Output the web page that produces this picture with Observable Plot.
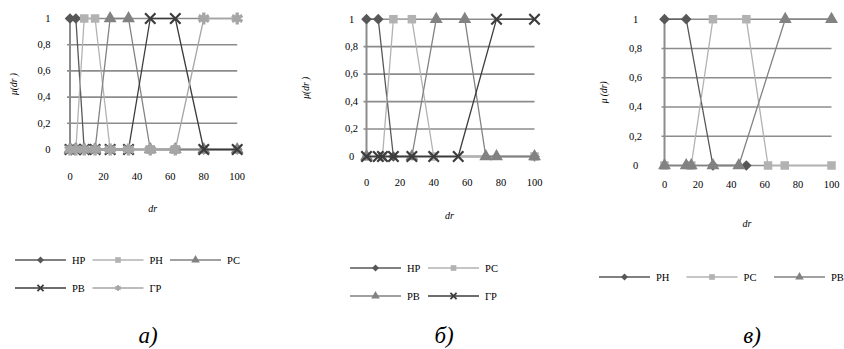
<!DOCTYPE html>
<html><head><meta charset="utf-8">
<script src="https://cdn.jsdelivr.net/npm/d3@7"></script>
<script src="https://cdn.jsdelivr.net/npm/@observablehq/plot@0.6"></script>
<style>
body{margin:0;background:#fff;}
#root{position:relative;width:844px;height:349px;overflow:hidden;}
.panel{position:absolute;top:0;}
#overlay{position:absolute;left:0;top:0;}
svg text{font-family:"Liberation Serif","Times New Roman",Times,Tinos,"Noto Serif","DejaVu Serif",serif !important;}
</style></head><body><div id="root"></div>
<script>
// ---------- data ----------
const yTicks = [0, 0.2, 0.4, 0.6, 0.8, 1];
const xTicks = [0, 20, 40, 60, 80, 100];

// panel а)
const aSeries = ["НР", "РН", "РС", "РВ", "ГР"];
const aX  = [0, 3.5, 8.5, 15, 24, 35, 48, 63, 80, 100];
const aNR = [1, 1, 0, 0, 0, 0, 0, 0, 0, 0];
const aRN = [0, 0, 1, 1, 0, 0, 0, 0, 0, 0];
const aRS = [0, 0, 0, 0, 1, 1, 0, 0, 0, 0];
const aRV = [0, 0, 0, 0, 0, 0, 1, 1, 0, 0];
const aGR = [0, 0, 0, 0, 0, 0, 0, 0, 1, 1];

// panel б)
const bSeries = ["НР", "РС", "РВ", "ГР"];
const bNRx = [0, 7, 16, 100];
const bNRy = [1, 1, 0, 0];
const bRSx = [0, 9.5, 16, 27, 40, 100];
const bRSy = [0, 0, 1, 1, 0, 0];
const bRVx = [0, 27, 41.5, 58.5, 71, 77.4, 100];
const bRVy = [0, 0, 1, 1, 0, 0, 0];
const bGRx = [0, 7, 9.5, 16, 27, 40, 54.6, 77.4, 100];
const bGRy = [0, 0, 0, 0, 0, 0, 0, 1, 1];

// panel в)
const cSeries = ["РН", "РС", "РВ"];
const cRNx = [0, 13, 29, 49];
const cRNy = [1, 1, 0, 0];
const cRSx = [0, 16, 29, 49, 62, 72, 100];
const cRSy = [0, 0, 1, 1, 0, 0, 0];
const cRVx = [0, 13, 16, 29, 44.5, 72.3, 100];
const cRVy = [0, 0, 0, 0, 0, 1, 1];

// ---------- styles ----------
const DARK = "#575757", LIGHT = "#b2b2b2", MID = "#828282", DARKER = "#3c3c3c", LIGHT2 = "#a6a6a6";
const FONT = "'Liberation Serif', 'Times New Roman', Times, Tinos, 'Noto Serif', 'DejaVu Serif', serif";
const sty = {
  diamond: {sym: "diamond2", d3sym: d3.symbolDiamond2, filled: true, sw: 0, r: 4.8},
  square: {sym: "square", d3sym: d3.symbolSquare, filled: true, sw: 0, r: 4.8},
  triangle: {sym: "triangle", d3sym: d3.symbolTriangle, filled: true, sw: 0, r: 4.8},
  times: {sym: "times", d3sym: d3.symbolTimes, filled: false, sw: 2.2, r: 4.8},
  asterisk: {sym: "asterisk", d3sym: d3.symbolAsterisk, filled: false, sw: 3.4, r: 5.6}
};
const aStyle = [[DARK, "diamond"], [LIGHT, "square"], [MID, "triangle"], [DARKER, "times"], [LIGHT2, "asterisk"]];
const bStyle = [[DARK, "diamond"], [LIGHT, "square"], [MID, "triangle"], [DARKER, "times"]];
const cStyle = [[DARK, "diamond"], [LIGHT, "square"], [MID, "triangle"]];

const zip = (xs, ys) => xs.map((x, i) => ({x, y: ys[i]}));

const panels = [
  {left: 0, width: 260, height: 200, mL: 67, mR: 22.8, mT: 18, mB: 51,
   yPad: 17, yAnchor: "end", xPad: 23, yLab: "μ(dr )", yDx: -54, xDy: 59,
   series: aSeries, style: aStyle,
   data: [zip(aX, aNR), zip(aX, aRN), zip(aX, aRS), zip(aX, aRV), zip(aX, aGR)],
   legend: {rows: [[0, 1, 2], [3, 4]], x0: 15, y0: 260, dx: 77.5, dy: 28},
   cap: "а)", capX: 148},
  {left: 290, width: 260, height: 200, mL: 73.5, mR: 15.5, mT: 18.7, mB: 44,
   yPad: 12.5, yAnchor: "middle", xPad: 22, yLab: "μ(dr )", yDx: -58.5, xDy: 59,
   series: bSeries, style: bStyle,
   data: [zip(bNRx, bNRy), zip(bRSx, bRSy), zip(bRVx, bRVy), zip(bGRx, bGRy)],
   legend: {rows: [[0, 1], [2, 3]], x0: 350, y0: 268, dx: 78, dy: 28},
   cap: "б)", capX: 444},
  {left: 570, width: 274, height: 200, mL: 91.5, mR: 12.5, mT: 18.7, mB: 35,
   yPad: 26.5, yAnchor: "middle", xPad: 15, yLab: "μ (dr)", yDx: -58.5, xDy: 58,
   series: cSeries, style: cStyle,
   data: [zip(cRNx, cRNy), zip(cRSx, cRSy), zip(cRVx, cRVy)],
   legend: {rows: [[0, 1, 2]], x0: 599, y0: 277, dx: 87.5, dy: 0},
   cap: "в)", capX: 752}
];

const root = document.getElementById("root");

for (const p of panels) {
  const marks = [
    Plot.gridY(yTicks, {stroke: "#8c8c8c", strokeOpacity: 1, strokeWidth: 1.6}),
    Plot.ruleX([0], {y1: 0, y2: 1, stroke: "#8c8c8c", strokeWidth: 2}),
    Plot.axisY(yTicks, {tickSize: 0, tickPadding: p.yPad, textAnchor: p.yAnchor,
      tickFormat: d => String(d).replace(".", ","), label: null, fontSize: 10.5}),
    Plot.axisX(xTicks, {tickSize: 0, tickPadding: p.xPad, label: null, fontSize: 10.5})
  ];
  p.data.forEach((d, i) => {
    const [color, key] = p.style[i];
    const s = sty[key];
    marks.push(Plot.line(d, {x: "x", y: "y", stroke: color, strokeWidth: 1.3}));
    marks.push(Plot.dot(d, s.filled
      ? {x: "x", y: "y", symbol: s.sym, r: s.r, fill: color, stroke: "none"}
      : {x: "x", y: "y", symbol: s.sym, r: s.r, fill: "none", stroke: color, strokeWidth: s.sw}));
  });
  marks.push(Plot.text([p.yLab], {frameAnchor: "left", rotate: -90, dx: p.yDx, textAnchor: "middle",
    lineAnchor: "middle", fontStyle: "italic", fontSize: 9.5}));
  marks.push(Plot.text(["dr"], {frameAnchor: "bottom", dy: p.xDy, textAnchor: "middle",
    lineAnchor: "middle", fontStyle: "italic", fontSize: 10}));

  const chart = Plot.plot({
    width: p.width, height: p.height,
    marginLeft: p.mL, marginRight: p.mR, marginTop: p.mT, marginBottom: p.mB,
    insetLeft: 2.5, insetRight: 0.5,
    x: {domain: [0, 100]}, y: {domain: [0, 1]},
    style: {fontFamily: FONT, fontSize: "10.5px", color: "#000", background: "transparent", overflow: "visible"},
    marks
  });
  chart.classList.add("panel");
  chart.style.left = p.left + "px";
  root.appendChild(chart);
}

// legends and captions
const ov = d3.select(root).append("svg").attr("id", "overlay").attr("width", 844).attr("height", 349)
  .attr("font-family", FONT);
for (const p of panels) {
  const L = p.legend;
  L.rows.forEach((row, r) => {
    row.forEach((si, c) => {
      const x = L.x0 + c * L.dx, y = L.y0 + r * L.dy;
      const [color, key] = p.style[si];
      const s = sty[key];
      const g = ov.append("g").attr("transform", `translate(${x},${y})`);
      g.append("line").attr("x1", 0).attr("x2", 51).attr("y1", 0).attr("y2", 0)
        .attr("stroke", color).attr("stroke-width", 1.3);
      const path = d3.symbol(s.d3sym, s.filled ? 32 : 26)();
      const m = g.append("path").attr("d", path).attr("transform", "translate(25.5,0)");
      if (s.filled) m.attr("fill", color); else m.attr("fill", "none").attr("stroke", color).attr("stroke-width", 1.8);
      g.append("text").attr("x", 57).attr("y", 3.6).attr("font-size", 10.5).attr("fill", "#000").text(p.series[si]);
    });
  });
  ov.append("text").attr("x", p.capX).attr("y", 343).attr("text-anchor", "middle")
    .attr("font-size", 23).attr("font-style", "italic").attr("fill", "#000").text(p.cap);
}
</script></body></html>
